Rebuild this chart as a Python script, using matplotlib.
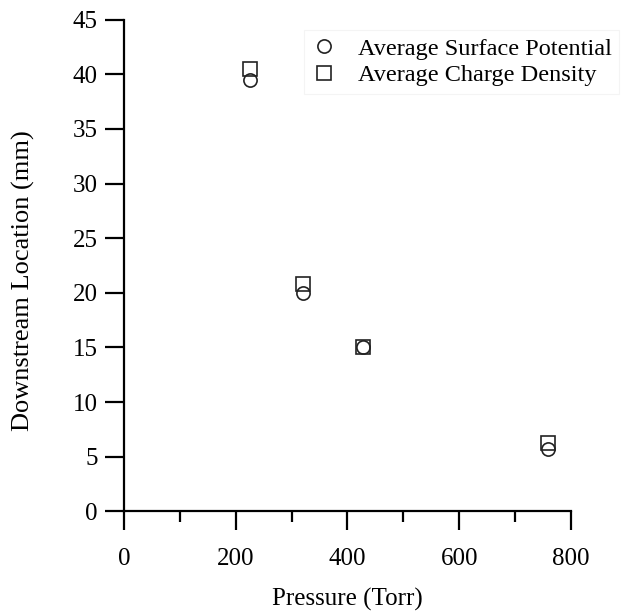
import numpy as np
import matplotlib
matplotlib.use('Agg')
import matplotlib.pyplot as plt
from matplotlib.ticker import MultipleLocator

# datos
pressure = [226, 320, 428, 759]
surface_potential = [39.5, 20.0, 15.0, 5.7]
charge_density = [40.5, 20.8, 15.0, 6.3]

plt.rcParams['font.family'] = ['Liberation Serif', 'DejaVu Serif']

fig = plt.figure(figsize=(6.26, 6.11), dpi=100)
ax = fig.add_axes([0.198, 0.163, 0.714, 0.805])

ax.plot(pressure, surface_potential, 'o', ms=9.5, mfc='none', mec='#222222',
        mew=1.2, label='Average Surface Potential')
ax.plot(pressure, charge_density, 's', ms=9.5, mfc='none', mec='#222222',
        mew=1.2, label='Average Charge Density')

ax.set_xlim(0, 800)
ax.set_ylim(0, 45)
ax.xaxis.set_major_locator(MultipleLocator(200))
ax.xaxis.set_minor_locator(MultipleLocator(100))
ax.yaxis.set_major_locator(MultipleLocator(5))

for s in ['top', 'right']:
    ax.spines[s].set_visible(False)
for s in ['left', 'bottom']:
    ax.spines[s].set_linewidth(1.6)

ax.tick_params(which='major', direction='out', length=14, width=1.6, labelsize=18, pad=12)
ax.tick_params(which='minor', direction='out', length=8, width=1.6)
ax.tick_params(axis='y', pad=5)

ax.set_xlabel('Pressure (Torr)', fontsize=18)
ax.xaxis.set_label_coords(0.5, -0.155)
ax.set_ylabel('Downstream Location (mm)', fontsize=19)
ax.yaxis.set_label_coords(-0.2, 0.47)

leg = ax.legend(loc='upper right', bbox_to_anchor=(1.135, 1.003), fontsize=17.5,
                frameon=True, fancybox=False, edgecolor='#f2f2f2',
                handletextpad=0.9, borderpad=0.3, labelspacing=0.2,
                handlelength=1.0)
leg.get_frame().set_linewidth(0.8)

plt.savefig('out.png', dpi=100)
